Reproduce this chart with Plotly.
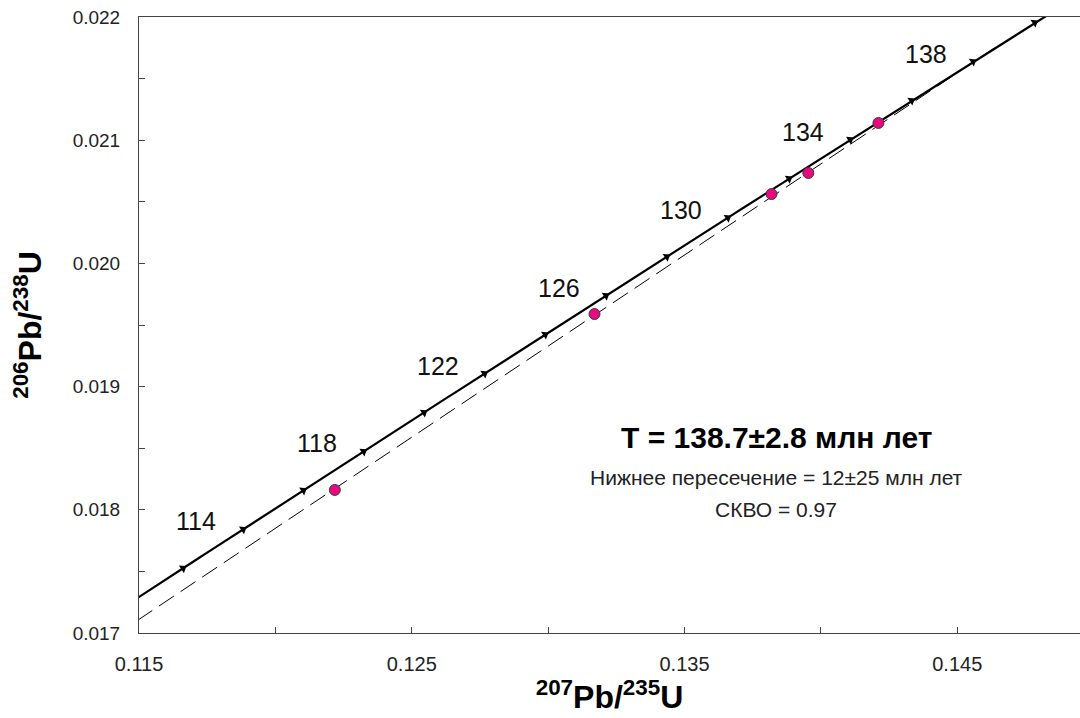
import numpy as np
import plotly.graph_objects as go

# Decay constants (1/yr)
LAMBDA_235 = 9.8485e-10
LAMBDA_238 = 1.55125e-10

# Measured zircon analyses
pb207_u235 = [0.12218, 0.13170, 0.13819, 0.13954, 0.14211]
pb206_u238 = [0.018161, 0.019589, 0.020563, 0.020734, 0.021140]

# Concordia age marks (Ma) and the ages that carry a text label
tick_ages = list(range(100, 152, 2))
label_ages = [114, 118, 122, 126, 130, 134, 138]

# Discordia intercepts (Ma)
upper_age = 138.7
lower_age = 12.0

x_ticks = [0.115, 0.120, 0.125, 0.130, 0.135, 0.140, 0.145]
x_ticktext = ["0.115", "", "0.125", "", "0.135", "", "0.145"]
y_ticks = [0.017, 0.0175, 0.018, 0.0185, 0.019, 0.0195, 0.020, 0.0205, 0.021, 0.0215, 0.022]
y_ticktext = ["0.017", "", "0.018", "", "0.019", "", "0.020", "", "0.021", "", "0.022"]


def concordia(age_ma):
    t = np.asarray(age_ma, dtype=float) * 1e6
    return np.exp(LAMBDA_235 * t) - 1.0, np.exp(LAMBDA_238 * t) - 1.0


FONT = "Liberation Sans, Arial, sans-serif"

fig = go.Figure()

# Concordia curve
curve_ages = np.arange(100, 150.01, 0.25)
cx, cy = concordia(curve_ages)
fig.add_trace(go.Scatter(x=cx, y=cy, mode="lines",
                         line=dict(color="black", width=2.2),
                         hoverinfo="skip", showlegend=False))

# Discordia line between the two intercepts
ux, uy = concordia(upper_age)
lx, ly = concordia(lower_age)
fig.add_trace(go.Scatter(x=[float(lx), float(ux)], y=[float(ly), float(uy)], mode="lines",
                         line=dict(color="black", width=1, dash="18px,8px"),
                         hoverinfo="skip", showlegend=False))

# Age marks along the concordia
tx, ty = concordia(tick_ages)
fig.add_trace(go.Scatter(x=tx, y=ty, mode="markers",
                         marker=dict(symbol="triangle-up", size=8, color="black",
                                     angleref="previous", line=dict(width=0)),
                         hoverinfo="skip", showlegend=False))

# Analyses
fig.add_trace(go.Scatter(x=pb207_u235, y=pb206_u238, mode="markers",
                         marker=dict(symbol="circle", size=11, color="#E8087F",
                                     line=dict(color="#3a3a3a", width=1)),
                         showlegend=False))

# Age labels
lxs, lys = concordia(label_ages)
for age, xa, ya in zip(label_ages, lxs, lys):
    fig.add_annotation(x=float(xa), y=float(ya), text=str(age), showarrow=False,
                       xshift=-47, yshift=8,
                       font=dict(family=FONT, size=25, color="#111"))

# Result text
fig.add_annotation(xref="paper", yref="paper", x=0.677, y=0.287, xanchor="center",
                   text="<b>T = 138.7±2.8 млн лет</b>", showarrow=False,
                   font=dict(family=FONT, size=30, color="black"))
fig.add_annotation(xref="paper", yref="paper", x=0.677, y=0.230, xanchor="center",
                   text="Нижнее пересечение = 12±25 млн лет", showarrow=False,
                   font=dict(family=FONT, size=21, color="#222"))
fig.add_annotation(xref="paper", yref="paper", x=0.677, y=0.179, xanchor="center",
                   text="СКВО = 0.97", showarrow=False,
                   font=dict(family=FONT, size=21, color="#222"))

fig.update_layout(
    width=1080, height=718,
    margin=dict(l=139, r=0, t=17, b=85),
    paper_bgcolor="white", plot_bgcolor="white",
    font=dict(family=FONT, color="#222"),
    xaxis=dict(range=[0.115, 0.1495], tickvals=x_ticks, ticktext=x_ticktext,
               ticks="inside", ticklen=6, tickcolor="#444", tickwidth=1,
               showline=True, linecolor="#444", linewidth=1, mirror=True,
               showgrid=False, zeroline=False, ticklabelstandoff=13,
               tickfont=dict(family=FONT, size=20, color="#222"),
               title=dict(text="<b><sup>207</sup>Pb/<sup>235</sup>U</b>",
                          font=dict(family=FONT, size=32, color="black"), standoff=2)),
    yaxis=dict(range=[0.017, 0.022], tickvals=y_ticks, ticktext=y_ticktext,
               ticks="inside", ticklen=6, tickcolor="#444", tickwidth=1,
               showline=True, linecolor="#444", linewidth=1, mirror=False,
               showgrid=False, zeroline=False, ticklabelstandoff=14,
               tickfont=dict(family=FONT, size=19, color="#222"),
               title=dict(text="<b><sup>206</sup>Pb/<sup>238</sup>U</b>",
                          font=dict(family=FONT, size=32, color="black"), standoff=21)),
)

fig.write_html("out.html")
